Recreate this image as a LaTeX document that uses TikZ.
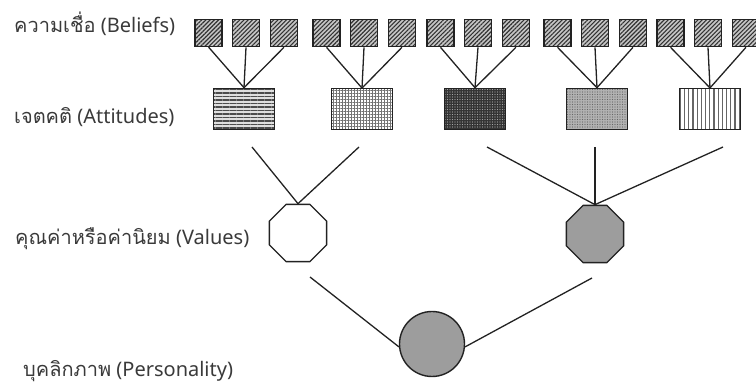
\documentclass[tikz,border=0pt]{standalone}
\usepackage{fontspec}
\setmainfont{Noto Sans}
\newfontfamily\thaifont[Script=Thai]{Loma}
\usetikzlibrary{shapes.geometric,patterns.meta}
\definecolor{linegray}{HTML}{222222}
\definecolor{textgray}{HTML}{3A3A3A}
\tikzstyle{every node}+=[inner sep=0pt]
\tikzstyle{leveltext}=[anchor=base west, text=textgray, font=\fontsize{20}{23}\selectfont]
\tikzstyle{belief}=[draw=linegray, line width=1.6pt, minimum size=27pt, preaction={fill=gray!45}, pattern={Lines[angle=45,distance=3pt,line width=1.1pt]}, pattern color=black!80]
\tikzstyle{attitude}=[draw=linegray, line width=1.6pt, minimum width=61pt, minimum height=41pt]
\tikzstyle{attA}=[preaction={fill=gray!25}, pattern={Lines[angle=0,distance=3.5pt,line width=1.6pt]}, pattern color=black!70]
\tikzstyle{attB}=[preaction={fill=white}, pattern={Hatch[distance=3pt,line width=0.8pt]}, pattern color=black!55]
\tikzstyle{attC}=[preaction={fill=black!80}, pattern={Dots[distance=2.5pt,radius=0.55pt]}, pattern color=gray!70]
\tikzstyle{attD}=[preaction={fill=gray!60}, pattern={Dots[distance=2.5pt,radius=0.6pt]}, pattern color=black!60]
\tikzstyle{attE}=[preaction={fill=white}, pattern={Lines[angle=90,distance=4.2pt,line width=1.1pt]}, pattern color=black!60]
\tikzstyle{valnode}=[draw=linegray, line width=1.4pt, regular polygon, regular polygon sides=8, minimum size=62pt]
\tikzstyle{shaded}=[preaction={fill=gray!75}, pattern={Dots[distance=2pt,radius=0.45pt]}, pattern color=black!45]
\tikzstyle{link}=[draw=linegray, line width=1.3pt]
\begin{document}
\begin{tikzpicture}[x=1pt,y=-1pt]
\useasboundingbox (0,0) rectangle (756,387);
\clip (0,0) rectangle (756,387);

% level labels
\node [leveltext] (tBel) at (14,33) {{\thaifont ความเชื่อ} (Beliefs)};
\node [leveltext] (tAtt) at (14,124) {{\thaifont เจตคติ} (Attitudes)};
\node [leveltext] (tVal) at (15,245) {{\thaifont คุณค่าหรือค่านิยม} (Values)};
\node [leveltext] (tPer) at (23,377) {{\thaifont บุคลิกภาพ} (Personality)};

% beliefs and attitudes
\foreach \cx/\ax/\pat [count=\g] in {246/244/attA,364/362/attB,478/475/attC,595/597/attD,708/710/attE}
{
  \node [attitude,\pat] (a\g) at (\ax,109) {};
  \foreach \d [count=\k] in {-37.5,0,38}
  {
    \node [belief] (b\g-\k) at (\cx+\d,33) {};
    \draw [link] (b\g-\k.south) -- (a\g.north);
  }
}

% values
\node [valnode, fill=white] (v1) at (298,233) {};
\node [valnode, shaded] (v2) at (595,234) {};

\coordinate (s1) at (252,147);
\coordinate (s2) at (359,147);
\coordinate (s3) at (487,147);
\coordinate (s4) at (595,147);
\coordinate (s5) at (723,147);
\draw [link] (s1) -- (v1.north);
\draw [link] (s2) -- (v1.north);
\draw [link] (s3) -- (v2.north);
\draw [link] (s4) -- (v2.north);
\draw [link] (s5) -- (v2.north);

% personality
\node [circle, draw=linegray, line width=1.4pt, minimum size=65pt, shaded] (p) at (432,344) {};
\coordinate (r1) at (310,277);
\coordinate (r2) at (592,278);
\draw [link] (r1) -- (p.185);
\draw [link] (r2) -- (p.355);
\end{tikzpicture}
\end{document}
